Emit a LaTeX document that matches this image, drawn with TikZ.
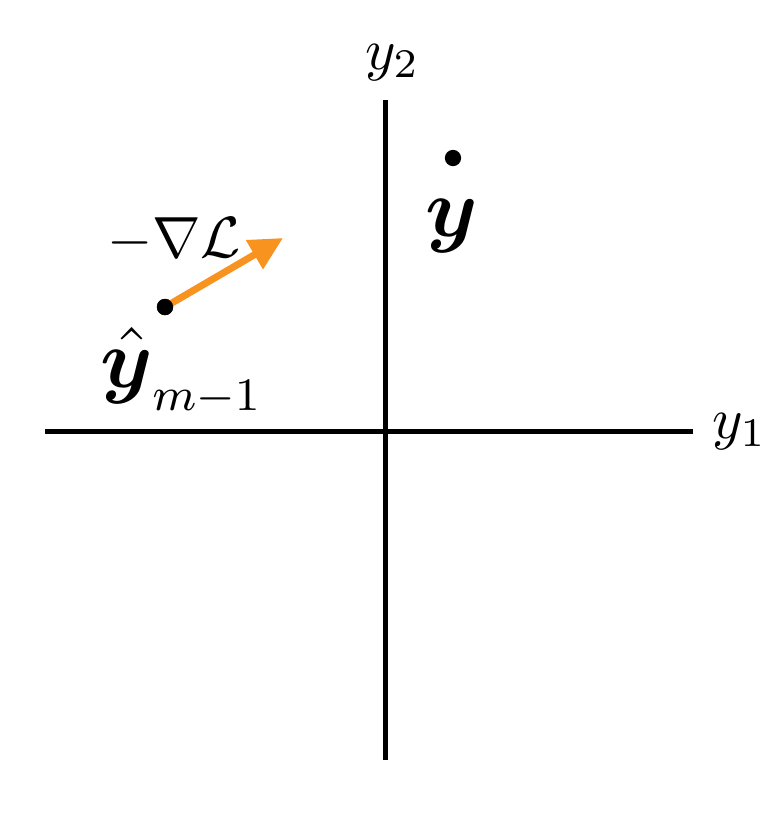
\documentclass[tikz,border=0pt]{standalone}
\usepackage{amsmath,amssymb,bm}
\usetikzlibrary{arrows.meta}
\definecolor{gradorange}{RGB}{247,147,30}
\begin{document}
\begin{tikzpicture}[x=0.172pt,y=-0.172pt,
 axis/.style={line width=0.86pt},
 dot/.style={circle,fill=black,inner sep=0pt,minimum size=2.8pt},
 lbl/.style={inner sep=0pt,anchor=base west},
 grad/.style={gradorange,line width=1.2pt,-{Triangle[length=5.7pt,width=5.5pt]}}]
\useasboundingbox (0,0) rectangle (772,832);
\coordinate (xl) at (45,431); \coordinate (xr) at (693,431);
\coordinate (yt) at (386,100); \coordinate (yb) at (386,760);
\draw[axis] (xl) -- (xr);
\draw[axis] (yt) -- (yb);
\node[lbl] (ly1) at (711,438) {$y_1$};
\node[lbl] (ly2) at (364,69) {$y_2$};
\node[dot] (y) at (453,158) {};
\node[lbl,anchor=base] (ly) at (452,236) {\Large$\boldsymbol{y}$};
\coordinate (tip) at (283,238);
\node[dot] (yh) at (165,307) {};
\draw[grad] (yh.center) -- (tip);
\node[dot] at (yh) {};
\node[lbl] (lyh) at (99,387) {{\Large$\hat{\boldsymbol{y}}$}\raisebox{-4.1pt}{\large$\scriptstyle m-1$}};
\node[lbl] (lg) at (106,257) {$-\nabla\mathcal{L}$};
\end{tikzpicture}
\end{document}
